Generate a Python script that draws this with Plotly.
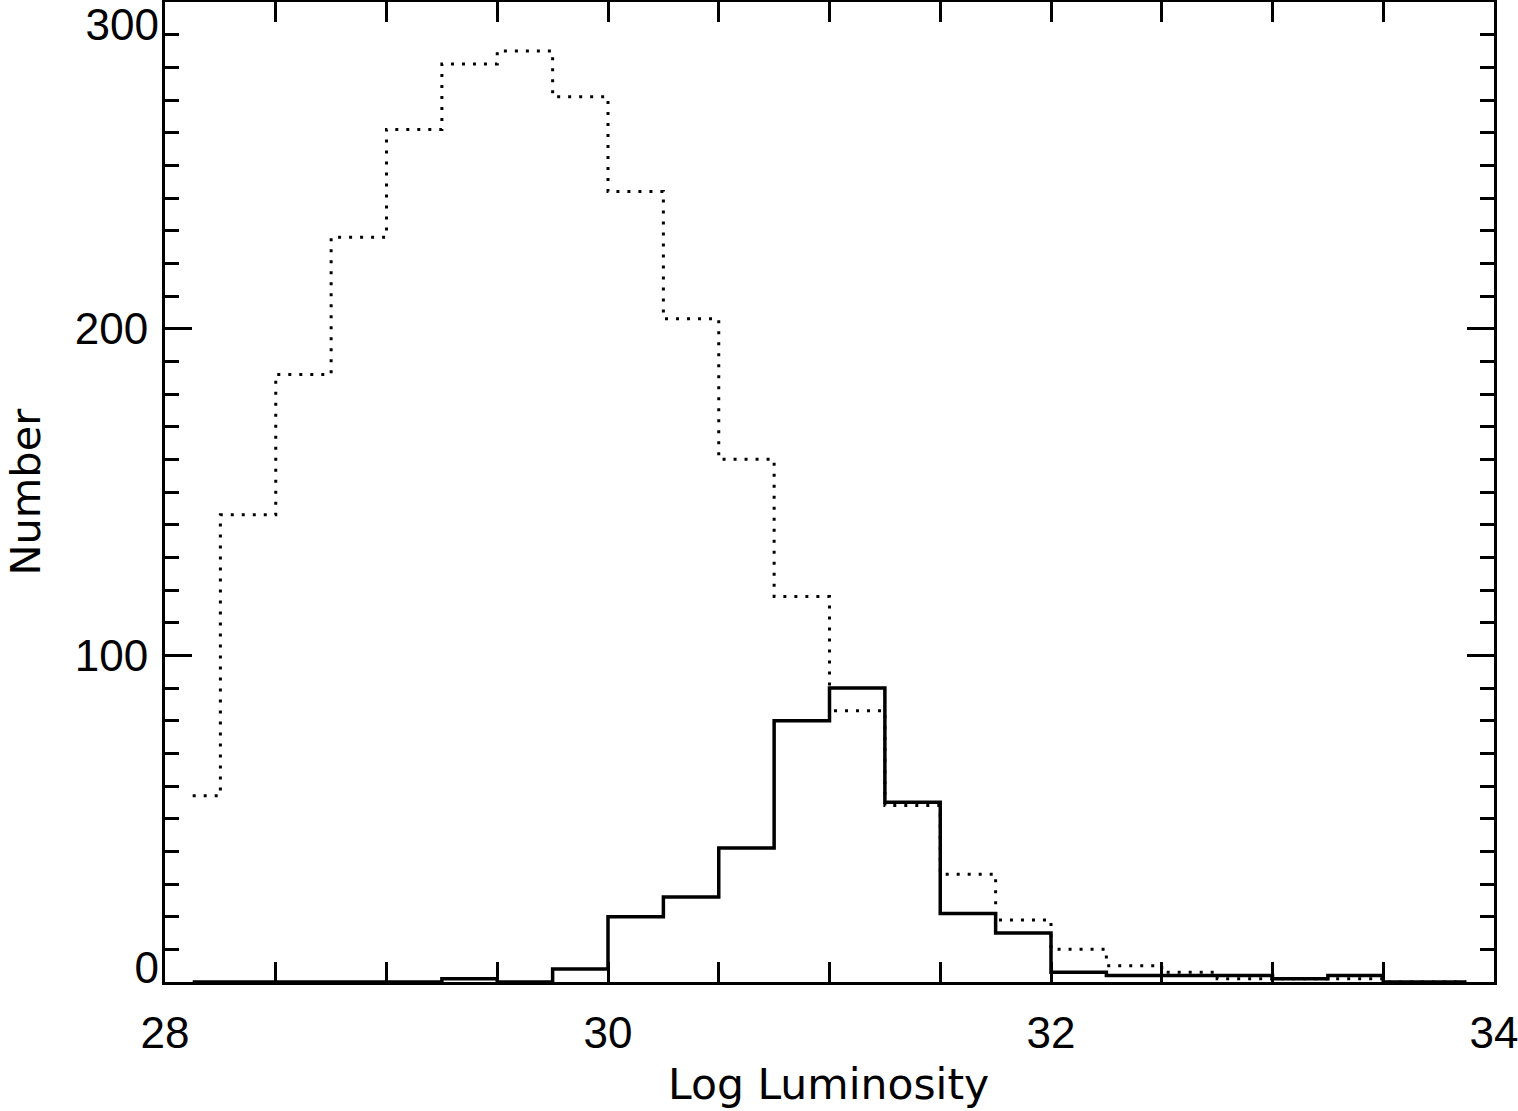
import plotly.graph_objects as go

# Bin centres (log luminosity), bin width 0.25
bin_centers = [28.125, 28.375, 28.625, 28.875, 29.125, 29.375, 29.625, 29.875,
               30.125, 30.375, 30.625, 30.875, 31.125, 31.375, 31.625, 31.875,
               32.125, 32.375, 32.625, 32.875, 33.125, 33.375, 33.625, 33.875]

# Dotted histogram (full sample)
counts_dotted = [57, 143, 186, 228, 261, 281, 285, 271,
                 242, 203, 160, 118, 83, 54, 33, 19,
                 10, 5, 3, 1, 1, 1, 0, 0]

# Solid histogram (sub-sample)
counts_solid = [0, 0, 0, 0, 0, 1, 0, 4,
                20, 26, 41, 80, 90, 55, 21, 15,
                3, 2, 2, 2, 1, 2, 0, 0]

x_tickvals = [28, 30, 32, 34]
y_tickvals = [0, 100, 200, 300]
x_title = "Log Luminosity"
y_title = "Number"

TICK_FONT = "Liberation Sans"
TITLE_FONT = "DejaVu Sans"
Y_RANGE = [0, 300]

fig = go.Figure()
fig.add_trace(go.Scatter(
    x=bin_centers, y=counts_dotted, mode="lines",
    line=dict(shape="hvh", color="black", width=3, dash="3px,8px"),
    showlegend=False, hoverinfo="skip"))
fig.add_trace(go.Scatter(
    x=bin_centers, y=counts_solid, mode="lines",
    line=dict(shape="hvh", color="black", width=3.5),
    showlegend=False, hoverinfo="skip"))
# Empty traces so that the overlay label axes are drawn
fig.add_trace(go.Scatter(x=[], y=[], yaxis="y2", mode="lines",
                         showlegend=False, hoverinfo="skip"))
fig.add_trace(go.Scatter(x=[], y=[], yaxis="y3", mode="lines",
                         showlegend=False, hoverinfo="skip"))

fig.update_layout(
    width=1518, height=1111,
    margin=dict(l=165, r=24, t=2, b=129, autoexpand=False),
    paper_bgcolor="white", plot_bgcolor="white",
    font=dict(family=TICK_FONT, size=44, color="black"),
    showlegend=False,
)

fig.update_xaxes(
    range=[28, 34], tickvals=x_tickvals, ticktext=[str(v) for v in x_tickvals],
    showgrid=False, zeroline=False, automargin=False,
    showline=True, linecolor="black", linewidth=3, mirror="allticks",
    ticks="inside", ticklen=20, tickwidth=2.5, tickcolor="black",
    ticklabelstandoff=10, ticklabeloverflow="allow",
    tickfont=dict(size=44, family=TICK_FONT),
    minor=dict(dtick=0.5, ticks="inside", ticklen=10, tickwidth=2.5,
               tickcolor="black", showgrid=False),
)

# Main y axis: frame, all ticks, middle labels
y_ticktext = ["" if v in (y_tickvals[0], y_tickvals[-1]) else str(v) for v in y_tickvals]
fig.update_layout(yaxis=dict(
    range=Y_RANGE, tickvals=y_tickvals, ticktext=y_ticktext,
    showgrid=False, zeroline=False, automargin=False,
    showline=True, linecolor="black", linewidth=3, mirror="allticks",
    ticks="inside", ticklen=27, tickwidth=2.5, tickcolor="black",
    ticklabelstandoff=5, ticklabeloverflow="allow",
    tickfont=dict(size=44, family=TICK_FONT),
    minor=dict(dtick=10, ticks="inside", ticklen=14, tickwidth=2.5,
               tickcolor="black", showgrid=False),
))
# End labels nudged inside the frame's vertical extent (as in the original)
fig.update_layout(yaxis2=dict(
    overlaying="y", anchor="x", side="left", range=Y_RANGE,
    tickvals=[y_tickvals[-1]], ticktext=[str(y_tickvals[-1])],
    ticks="", showline=False, showgrid=False, zeroline=False, automargin=False,
    ticklabelstandoff=5, ticklabelshift=23,
    ticklabeloverflow="allow", tickfont=dict(size=44, family=TICK_FONT),
))
fig.update_layout(yaxis3=dict(
    overlaying="y", anchor="x", side="left", range=Y_RANGE,
    tickvals=[y_tickvals[0]], ticktext=[str(y_tickvals[0])],
    ticks="", showline=False, showgrid=False, zeroline=False, automargin=False,
    ticklabelstandoff=5, ticklabelshift=-14,
    ticklabeloverflow="allow", tickfont=dict(size=44, family=TICK_FONT),
))

# Axis titles
fig.add_annotation(text=x_title, xref="paper", yref="paper",
                   x=0.4989, y=-0.1041, xanchor="center", yanchor="middle",
                   showarrow=False, font=dict(size=42.5, family=TITLE_FONT))
fig.add_annotation(text=y_title, xref="paper", yref="paper",
                   x=-0.1050, y=0.501, xanchor="center", yanchor="middle",
                   textangle=-90, showarrow=False, font=dict(size=41.5, family=TITLE_FONT))

fig.write_html("out.html", config={"displayModeBar": False},
               post_script="document.body.style.margin='0';")
